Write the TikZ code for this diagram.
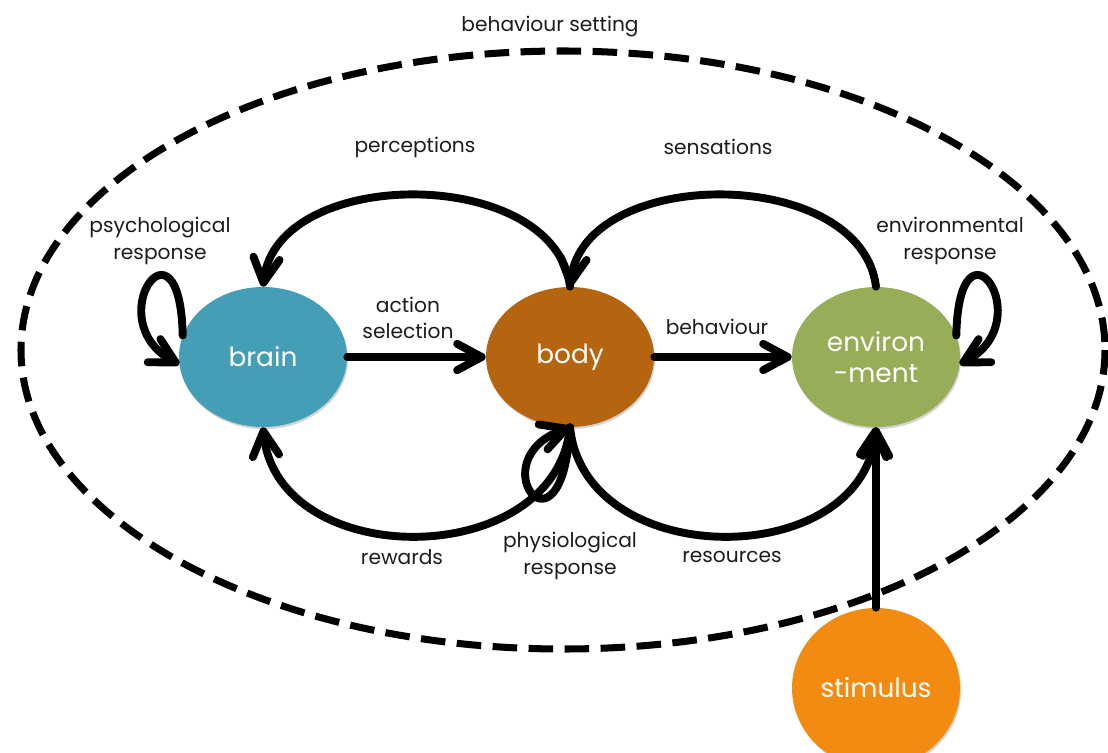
\documentclass[tikz,border=0pt]{standalone}
\usepackage{fontspec}
\setmainfont{Poppins}
\usetikzlibrary{arrows.meta,shapes.geometric,shadows}

\definecolor{brainblue}{HTML}{449FB6}
\definecolor{bodybrown}{HTML}{B5640F}
\definecolor{envgreen}{HTML}{97AD58}
\definecolor{stimorange}{HTML}{F28B12}
\definecolor{ink}{HTML}{1C1C1C}

\tikzset{
  agent/.style={ellipse, draw=none, minimum width=3.36cm, minimum height=2.8cm,
    inner sep=0pt, text=white, font=\fontsize{15}{18}\selectfont, align=center,
    drop shadow={shadow xshift=0.6pt, shadow yshift=-1.2pt, opacity=0.35}},
  lbl/.style={text=ink, font=\fontsize{11.5}{15}\selectfont, align=center, inner sep=0pt},
  flow/.style={line width=4.5pt, line cap=round, line join=round,
    -{Straight Barb[length=14pt, width=15pt, line cap=round, line join=round]}},
  setting/.style={line width=4pt, dash pattern=on 14pt off 6.5pt}
}

\begin{document}
\begin{tikzpicture}[x=0.02cm, y=-0.02cm]
  \useasboundingbox (0,0) rectangle (1108,753);
  \clip (0,0) rectangle (1108,753);

  % behaviour setting boundary
  \draw[setting] (563,350) ellipse [x radius=542, y radius=299];
  \node[lbl] (setlbl) at (550,27) {behaviour setting};

  % agents
  \node[agent, fill=brainblue] (brain) at (263,357) {brain};
  \node[agent, fill=bodybrown] (body) at (570,357) {body};
  \node[agent, fill=envgreen] (env) at (876,357) {environ\\-ment};
  \node[agent, fill=stimorange, minimum height=3.2cm] (stim) at (876,688) {stimulus};

  % straight flows
  \draw[flow] (brain.east) -- (body.west);
  \draw[flow] (body.east) -- (env.west);
  \draw[flow] (stim.north) -- (env.south);

  % upper arcs
  \draw[flow] (body.north) .. controls (555,165) and (278,165) .. (brain.north);
  \draw[flow] (env.north) .. controls (861,165) and (585,165) .. (body.north);

  % lower arcs
  \draw[flow] (body.south) .. controls (555,572) and (278,572) .. (brain.south);
  \draw[flow] (body.south) .. controls (585,572) and (861,572) .. (env.south);

  % self loops
  \draw[flow] (brain.165) .. controls (180,205) and (98,320) .. (brain.185);
  \draw[flow] (env.15) .. controls (959,205) and (1041,320) .. (env.355);
  \draw[flow] (body.south) .. controls (562,570) and (478,460) .. (body.south);

  % labels
  \node[lbl] (lperc) at (415,147) {perceptions};
  \node[lbl] (lsens) at (718,147) {sensations};
  \node[lbl] (lpsych) at (160,241) {psychological\\response};
  \node[lbl] (lenvr) at (950,241) {environmental\\response};
  \node[lbl] (lact) at (408,318) {action\\selection};
  \node[lbl] (lbeh) at (717,327) {behaviour};
  \node[lbl] (lrew) at (402,557) {rewards};
  \node[lbl] (lphys) at (570,556) {physiological\\response};
  \node[lbl] (lres) at (732,557) {resources};
\end{tikzpicture}
\end{document}
